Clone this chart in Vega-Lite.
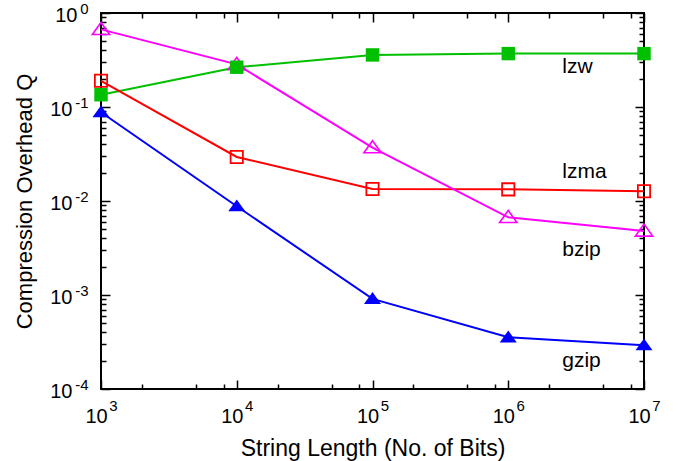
{
  "$schema": "https://vega.github.io/schema/vega-lite/v6.json",
  "width": 543,
  "height": 376,
  "autosize": {"type": "none"},
  "padding": {"left": 101, "top": 13, "right": 41, "bottom": 72},
  "background": "white",
  "config": {
    "view": {"stroke": "black", "strokeWidth": 2},
    "axis": {"grid": false, "domain": false, "labelFont": "Liberation Sans", "titleFont": "Liberation Sans", "labelColor": "black", "titleColor": "black", "titleFontWeight": "normal", "tickColor": "black", "tickWidth": 1.5, "labelFlush": false, "labelOverlap": false, "labelBound": false}
  },
  "datasets": {
    "series": [
      {"comp": "lzw", "x": 1000, "y": 0.135},
      {"comp": "lzw", "x": 10000, "y": 0.265},
      {"comp": "lzw", "x": 100000, "y": 0.358},
      {"comp": "lzw", "x": 1000000, "y": 0.37},
      {"comp": "lzw", "x": 10000000, "y": 0.37},
      {"comp": "lzma", "x": 1000, "y": 0.19},
      {"comp": "lzma", "x": 10000, "y": 0.0294},
      {"comp": "lzma", "x": 100000, "y": 0.0134},
      {"comp": "lzma", "x": 1000000, "y": 0.0133},
      {"comp": "lzma", "x": 10000000, "y": 0.0127},
      {"comp": "bzip", "x": 1000, "y": 0.67},
      {"comp": "bzip", "x": 10000, "y": 0.284},
      {"comp": "bzip", "x": 100000, "y": 0.037},
      {"comp": "bzip", "x": 1000000, "y": 0.0067},
      {"comp": "bzip", "x": 10000000, "y": 0.0048},
      {"comp": "gzip", "x": 1000, "y": 0.088},
      {"comp": "gzip", "x": 10000, "y": 0.0088},
      {"comp": "gzip", "x": 100000, "y": 0.00091},
      {"comp": "gzip", "x": 1000000, "y": 0.000355},
      {"comp": "gzip", "x": 10000000, "y": 0.000292}
    ],
    "labels": [
      {"label": "lzw", "x": 2500000, "y": 0.264},
      {"label": "lzma", "x": 2500000, "y": 0.0202},
      {"label": "bzip", "x": 2500000, "y": 0.003},
      {"label": "gzip", "x": 2500000, "y": 0.000197}
    ]
  },
  "resolve": {"axis": {"x": "independent", "y": "independent"}},
  "layer": [
    {
      "data": {"name": "series"},
      "mark": {"type": "line", "strokeWidth": 2},
      "encoding": {
        "x": {"field": "x", "type": "quantitative", "scale": {"type": "log", "domain": [1000, 10000000], "nice": false},
          "axis": {"orient": "bottom", "values": [1000, 10000, 100000, 1000000, 10000000], "labelExpr": "'10'", "labelFontSize": 20, "labelOffset": -5, "labelPadding": 17, "ticks": false, "tickSize": 0, "title": "String Length (No. of Bits)", "titleFontSize": 23, "titlePadding": 11}},
        "y": {"field": "y", "type": "quantitative", "scale": {"type": "log", "domain": [0.0001, 1], "nice": false},
          "axis": {"orient": "left", "values": [0.0001, 0.001, 0.01, 0.1, 1], "labelExpr": "'10'", "labelFontSize": 20, "labelAlign": "right", "labelBaseline": "middle", "labelOffset": 2, "labelPadding": {"condition": {"test": "datum.value == 1", "value": 24}, "value": 29}, "ticks": false, "tickSize": 0, "title": "Compression Overhead Q", "titleFontSize": 22, "titlePadding": 13}},
        "color": {"field": "comp", "type": "nominal", "scale": {"domain": ["lzw", "lzma", "bzip", "gzip"], "range": ["#00c000", "#ff0000", "#ff00ff", "#0000ff"]}, "legend": null}
      }
    },
    {
      "data": {"name": "series"},
      "transform": [{"filter": "datum.comp == 'bzip'"}],
      "mark": {"type": "point", "shape": "M0,-0.8L1,0.6L-1,0.6Z", "filled": false, "color": "#ff00ff", "strokeWidth": 1.6, "size": 300, "opacity": 1},
      "encoding": {
        "x": {"field": "x", "type": "quantitative", "scale": {"type": "log", "domain": [1000, 10000000], "nice": false},
          "axis": {"orient": "bottom", "values": [1000, 10000, 100000, 1000000, 10000000], "labelExpr": "'' + round(log(datum.value) / LN10)", "labelFontSize": 15, "labelOffset": 12, "labelPadding": 9, "ticks": false, "tickSize": 0, "title": null}},
        "y": {"field": "y", "type": "quantitative", "scale": {"type": "log", "domain": [0.0001, 1], "nice": false},
          "axis": {"orient": "left", "values": [0.0001, 0.001, 0.01, 0.1, 1], "labelExpr": "'' + round(log(datum.value) / LN10)", "labelFontSize": 15, "labelAlign": "right", "labelBaseline": "middle", "labelOffset": -5, "labelPadding": 13, "ticks": false, "tickSize": 0, "title": null}}
      }
    },
    {
      "data": {"name": "series"},
      "transform": [{"filter": "datum.comp == 'lzma'"}],
      "mark": {"type": "point", "shape": "square", "filled": false, "color": "#ff0000", "strokeWidth": 1.8, "size": 150, "opacity": 1},
      "encoding": {
        "x": {"field": "x", "type": "quantitative", "scale": {"type": "log", "domain": [1000, 10000000], "nice": false},
          "axis": {"orient": "bottom", "values": [1000, 10000, 100000, 1000000, 10000000], "labels": false, "tickSize": -9, "title": null}},
        "y": {"field": "y", "type": "quantitative", "scale": {"type": "log", "domain": [0.0001, 1], "nice": false},
          "axis": {"orient": "left", "values": [0.0001, 0.001, 0.01, 0.1, 1], "labels": false, "tickSize": -9, "title": null}}
      }
    },
    {
      "data": {"name": "series"},
      "transform": [{"filter": "datum.comp == 'gzip'"}],
      "mark": {"type": "point", "shape": "M0,-0.8L1,0.6L-1,0.6Z", "filled": true, "color": "#0000ff", "size": 290, "opacity": 1},
      "encoding": {
        "x": {"field": "x", "type": "quantitative", "scale": {"type": "log", "domain": [1000, 10000000], "nice": false},
          "axis": {"orient": "bottom", "values": [2000, 5000, 8000, 20000, 50000, 80000, 200000, 500000, 800000, 2000000, 5000000, 8000000], "labels": false, "tickSize": -5, "title": null}},
        "y": {"field": "y", "type": "quantitative", "scale": {"type": "log", "domain": [0.0001, 1], "nice": false},
          "axis": {"orient": "left", "values": [0.0002, 0.0003, 0.0004, 0.0005, 0.0006, 0.0007, 0.0008, 0.0009, 0.002, 0.003, 0.004, 0.005, 0.006, 0.007, 0.008, 0.009, 0.02, 0.03, 0.04, 0.05, 0.06, 0.07, 0.08, 0.09, 0.2, 0.3, 0.4, 0.5, 0.6, 0.7, 0.8, 0.9], "labels": false, "tickSize": -5, "title": null}}
      }
    },
    {
      "data": {"name": "series"},
      "transform": [{"filter": "datum.comp == 'lzw'"}],
      "mark": {"type": "point", "shape": "square", "filled": true, "color": "#00c000", "size": 180, "opacity": 1},
      "encoding": {
        "x": {"field": "x", "type": "quantitative", "scale": {"type": "log", "domain": [1000, 10000000], "nice": false},
          "axis": {"orient": "top", "values": [1000, 10000, 100000, 1000000, 10000000], "labels": false, "tickSize": -9, "title": null}},
        "y": {"field": "y", "type": "quantitative", "scale": {"type": "log", "domain": [0.0001, 1], "nice": false},
          "axis": {"orient": "right", "values": [0.0001, 0.001, 0.01, 0.1, 1], "labels": false, "tickSize": -9, "title": null}}
      }
    },
    {
      "data": {"name": "labels"},
      "mark": {"type": "text", "font": "Liberation Sans", "fontSize": 21, "align": "left", "baseline": "middle", "color": "black"},
      "encoding": {
        "text": {"field": "label", "type": "nominal"},
        "x": {"field": "x", "type": "quantitative", "scale": {"type": "log", "domain": [1000, 10000000], "nice": false},
          "axis": {"orient": "top", "values": [2000, 5000, 8000, 20000, 50000, 80000, 200000, 500000, 800000, 2000000, 5000000, 8000000], "labels": false, "tickSize": -5, "title": null}},
        "y": {"field": "y", "type": "quantitative", "scale": {"type": "log", "domain": [0.0001, 1], "nice": false},
          "axis": {"orient": "right", "values": [0.0002, 0.0003, 0.0004, 0.0005, 0.0006, 0.0007, 0.0008, 0.0009, 0.002, 0.003, 0.004, 0.005, 0.006, 0.007, 0.008, 0.009, 0.02, 0.03, 0.04, 0.05, 0.06, 0.07, 0.08, 0.09, 0.2, 0.3, 0.4, 0.5, 0.6, 0.7, 0.8, 0.9], "labels": false, "tickSize": -5, "title": null}}
      }
    }
  ]
}
